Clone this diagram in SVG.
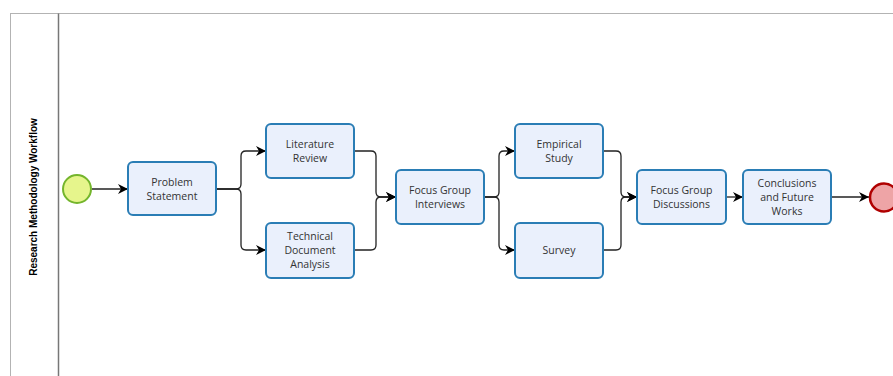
<svg xmlns="http://www.w3.org/2000/svg" width="893" height="376" viewBox="0 0 893 376">
  <style>
    .task rect { fill: #eaf0fc; stroke: #2a7db5; stroke-width: 2; }
    .task text { font-family: "Open Sans", "Noto Sans", sans-serif; font-size: 10.5px; fill: #333; text-anchor: middle; }
    .flow { fill: none; stroke: #222; stroke-width: 1.3; }
    .lane-title { font-family: "Liberation Sans", Arial, sans-serif; font-size: 10px; font-weight: bold; fill: #000; text-anchor: middle; }
  </style>
  <defs>
    <marker id="arrow" viewBox="0 0 10 10" refX="10" refY="5" markerWidth="10" markerHeight="10" markerUnits="userSpaceOnUse" orient="auto">
      <path d="M0,0 L10,5 L0,10 L3,5 Z" fill="#000"/>
    </marker>
  </defs>
  <rect width="893" height="376" fill="#fff"/>

  <!-- pool and lane -->
  <g id="pool">
    <rect x="10.5" y="13.5" width="900" height="400" fill="none" stroke="#666" stroke-dasharray="1,1"/>
    <line x1="58.5" y1="13.5" x2="58.5" y2="376" stroke="#777" stroke-width="1.5"/>
    <text class="lane-title" transform="translate(37,197) rotate(-90)">Research Methodology Workflow</text>
  </g>

  <!-- sequence flows -->
  <g id="connectors">
    <path class="flow" d="M92,189 H128" marker-end="url(#arrow)"/>
    <path class="flow" d="M216,189 H236 Q241,189 241,184 V156 Q241,151 246,151 H266" marker-end="url(#arrow)"/>
    <path class="flow" d="M216,189 H236 Q241,189 241,194 V245 Q241,250 246,250 H266" marker-end="url(#arrow)"/>
    <path class="flow" d="M354,151 H371 Q376,151 376,156 V192 Q376,197 381,197 H396" marker-end="url(#arrow)"/>
    <path class="flow" d="M354,250 H371 Q376,250 376,245 V202 Q376,197 381,197 H396" marker-end="url(#arrow)"/>
    <path class="flow" d="M484,197 H494 Q499,197 499,192 V156 Q499,151 504,151 H515" marker-end="url(#arrow)"/>
    <path class="flow" d="M484,197 H494 Q499,197 499,202 V245 Q499,250 504,250 H515" marker-end="url(#arrow)"/>
    <path class="flow" d="M603,151 H616 Q621,151 621,156 V192 Q621,197 626,197 H637" marker-end="url(#arrow)"/>
    <path class="flow" d="M603,250 H616 Q621,250 621,245 V202 Q621,197 626,197 H637" marker-end="url(#arrow)"/>
    <path class="flow" d="M726,197 H743" marker-end="url(#arrow)"/>
    <path class="flow" d="M831,197 H869" marker-end="url(#arrow)"/>
  </g>

  <!-- events -->
  <g id="start">
    <circle cx="77" cy="189" r="14" fill="#e6f58c" stroke="#74b52c" stroke-width="2"/>
  </g>
  <g id="end">
    <circle cx="884" cy="197.5" r="14" fill="#eea4a6" stroke="#b00000" stroke-width="2.5"/>
  </g>

  <!-- tasks -->
  <g id="problem-statement" class="task">
    <rect x="128" y="162" width="88" height="53" rx="5"/>
    <text x="172" y="186">Problem</text>
    <text x="172" y="200">Statement</text>
  </g>
  <g id="literature-review" class="task">
    <rect x="266" y="124" width="88" height="54" rx="5"/>
    <text x="310" y="148">Literature</text>
    <text x="310" y="162">Review</text>
  </g>
  <g id="technical-document-analysis" class="task">
    <rect x="266" y="223" width="88" height="55" rx="5"/>
    <text x="310" y="240">Technical</text>
    <text x="310" y="254">Document</text>
    <text x="310" y="268">Analysis</text>
  </g>
  <g id="focus-group-interviews" class="task">
    <rect x="396" y="170" width="88" height="54" rx="5"/>
    <text x="440" y="194">Focus Group</text>
    <text x="440" y="208">Interviews</text>
  </g>
  <g id="empirical-study" class="task">
    <rect x="515" y="124" width="88" height="54" rx="5"/>
    <text x="559" y="148">Empirical</text>
    <text x="559" y="162">Study</text>
  </g>
  <g id="survey" class="task">
    <rect x="515" y="223" width="88" height="55" rx="5"/>
    <text x="559" y="254">Survey</text>
  </g>
  <g id="focus-group-discussions" class="task">
    <rect x="637" y="170" width="89" height="54" rx="5"/>
    <text x="681.5" y="194">Focus Group</text>
    <text x="681.5" y="208">Discussions</text>
  </g>
  <g id="conclusions" class="task">
    <rect x="743" y="170" width="88" height="54" rx="5"/>
    <text x="787" y="187">Conclusions</text>
    <text x="787" y="201">and Future</text>
    <text x="787" y="215">Works</text>
  </g>
</svg>
